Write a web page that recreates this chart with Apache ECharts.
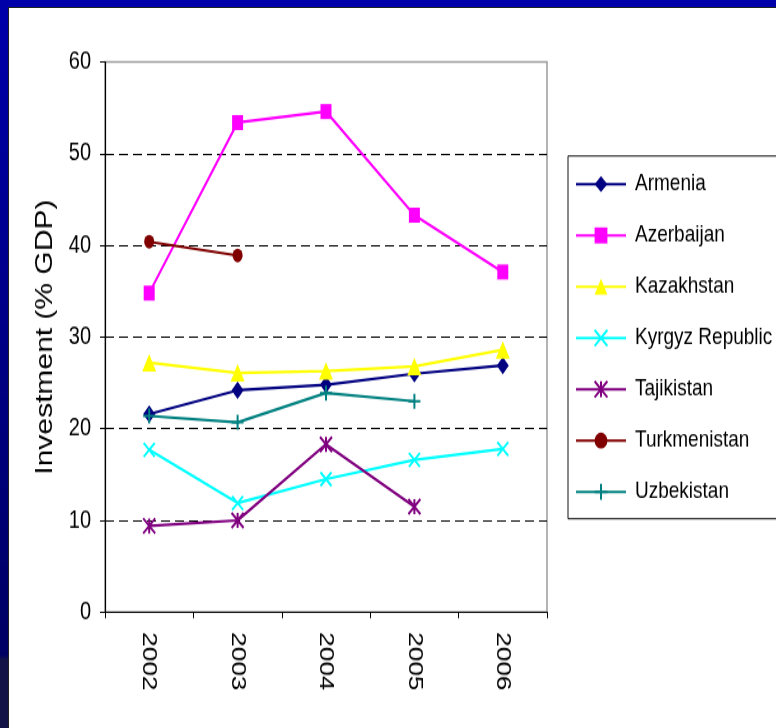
<!DOCTYPE html>
<html>
<head>
<meta charset="utf-8">
<script src="https://cdn.jsdelivr.net/npm/echarts@6/dist/echarts.min.js"></script>
<style>
  html, body { margin: 0; padding: 0; width: 776px; height: 728px; overflow: hidden; }
  #frame {
    position: absolute; left: 0; top: 0; width: 776px; height: 728px;
    background: linear-gradient(to bottom, #0000aa 0px, #00008a 300px, #000064 655px, #131348 660px, #131348 728px);
  }
  #panel {
    position: absolute; left: 8px; top: 7px; right: 0; bottom: 0;
    background: #ffffff; border-left: 1px solid #222; border-top: 1px solid #222;
  }
  /* the slide stretches the chart vertically */
  #chart {
    position: absolute; left: 0; top: 0; width: 776px; height: 582px;
    transform: scaleY(1.2509); transform-origin: 0 0;
  }
</style>
</head>
<body>
<div id="frame"><div id="panel"></div></div>
<div id="chart"></div>
<script>
// Investment as a share of GDP, 2002-2006
const years = ['2002', '2003', '2004', '2005', '2006'];
const armenia      = [21.6, 24.2, 24.8, 26.0, 26.9];
const azerbaijan   = [34.8, 53.4, 54.6, 43.3, 37.1];
const kazakhstan   = [27.2, 26.1, 26.3, 26.8, 28.6];
const kyrgyz       = [17.7, 11.9, 14.5, 16.6, 17.8];
const tajikistan   = [9.4, 10.0, 18.3, 11.5, '-'];
const turkmenistan = [40.4, 38.9, '-', '-', '-'];
const uzbekistan   = [21.4, 20.7, 23.9, 23.0, '-'];

const yTicks = { min: 0, max: 60, interval: 10 };
const yTitle = 'Investment (% GDP)';

const FONT = "'Liberation Sans', Arial, sans-serif";

const CROSS = 'path://M0,0L10,10M10,0L0,10';
const STAR = 'path://M0,0L10,10M10,0L0,10M5,0L5,10';
const PLUS = 'path://M5,0L5,10M0,5L10,5';

function series(name, data, color, symbol, size, stroked) {
  return {
    name: name,
    type: 'line',
    data: data,
    symbol: symbol,
    symbolSize: size,
    showAllSymbol: true,
    connectNulls: false,
    lineStyle: { color: color, width: 2.2 },
    itemStyle: stroked
      ? { color: color, borderColor: color, borderWidth: 2 }
      : { color: color, borderWidth: 0 },
    emphasis: { disabled: true },
    z: 3
  };
}

const chart = echarts.init(document.getElementById('chart'), null, { renderer: 'canvas' });
chart.setOption({
  animation: false,
  backgroundColor: 'transparent',
  textStyle: { fontFamily: FONT },
  grid: {
    left: 105, right: 229, top: 49.6, bottom: 92.7,
    show: true, borderColor: '#9a9a9a', borderWidth: 1.5, backgroundColor: 'transparent'
  },
  legend: {
    orient: 'vertical',
    left: 568, top: 124.7,
    padding: [13, 40, 12, 7],
    itemWidth: 50, itemHeight: 16, itemGap: 22,
    backgroundColor: '#ffffff',
    borderColor: '#111', borderWidth: 1,
    textStyle: { fontFamily: FONT, fontSize: 19, color: '#000', padding: [0, 0, 0, 4] },
    selectedMode: false
  },
  xAxis: {
    type: 'category',
    data: years,
    boundaryGap: true,
    axisLine: { lineStyle: { color: '#000', width: 1.2 } },
    axisTick: { show: true, length: 5, inside: false, lineStyle: { color: '#000' } },
    axisLabel: { rotate: -90, margin: 16, fontSize: 21, color: '#000', fontFamily: FONT },
    splitLine: { show: false }
  },
  yAxis: {
    type: 'value',
    min: yTicks.min, max: yTicks.max, interval: yTicks.interval,
    name: yTitle,
    nameLocation: 'middle',
    nameGap: 34,
    nameTextStyle: { fontSize: 24, color: '#000', fontFamily: FONT },
    axisLine: { show: true, lineStyle: { color: '#000', width: 1.2 } },
    axisTick: { show: true, length: 5, lineStyle: { color: '#000' } },
    axisLabel: { margin: 14, fontSize: 20, color: '#000', fontFamily: FONT },
    splitLine: {
      show: true,
      lineStyle: {
        color: ['#000', '#000', '#000', '#000', '#000', '#000', 'rgba(0,0,0,0)'],
        type: [9, 5], width: 1
      }
    }
  },
  series: [
    series('Armenia', armenia, '#000080', 'diamond', [12, 14], false),
    series('Azerbaijan', azerbaijan, '#ff00ff', 'rect', [11, 12], false),
    series('Kazakhstan', kazakhstan, '#ffff00', 'triangle', [14, 14], false),
    series('Kyrgyz Republic', kyrgyz, '#00ffff', CROSS, [11, 11], true),
    series('Tajikistan', tajikistan, '#800080', STAR, [12, 12], true),
    series('Turkmenistan', turkmenistan, '#800000', 'circle', [10, 11], false),
    series('Uzbekistan', uzbekistan, '#008080', PLUS, [12, 12], true)
  ]
});
</script>
</body>
</html>
